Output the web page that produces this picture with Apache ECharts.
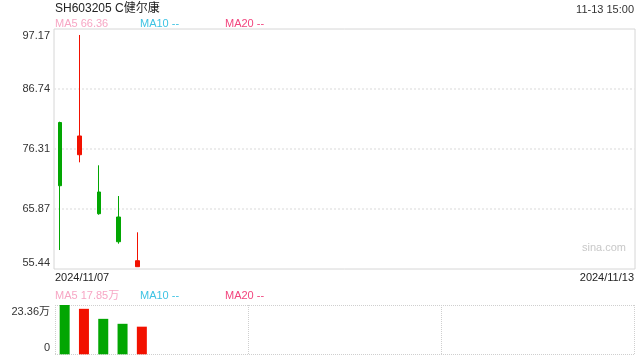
<!DOCTYPE html>
<html>
<head>
<meta charset="utf-8">
<script src="https://cdn.jsdelivr.net/npm/echarts@6/dist/echarts.min.js"></script>
<style>html,body{margin:0;padding:0;background:#fff;}#c{width:640px;height:360px;}</style>
</head>
<body>
<div id="c"></div>
<script>
// ---- data ----
var dates = ['2024/11/07', '2024/11/08', '2024/11/11', '2024/11/12', '2024/11/13'];
var opens  = [80.91, 75.31, 68.83, 64.48, 55.84];
var closes = [69.92, 78.57, 65.05, 60.18, 56.88];
var lows   = [58.74, 73.99, 64.88, 59.84, 55.84];
var highs  = [81.05, 96.13, 73.47, 68.13, 61.82];
var volumes = [23.36, 21.55, 16.80, 14.45, 13.09]; // 万
var priceTicks = ['55.44', '65.87', '76.31', '86.74', '97.17'];
var volTicks = ['0', '23.36万'];
var slotCount = 30;
var priceMin = 55.44, priceMax = 97.17;
var volMax = 23.36;

// ---- build ----
var cats = [];
for (var i = 0; i < slotCount; i++) cats.push(i < dates.length ? dates[i] : '');
var RED = '#f21100', GREEN = '#02a602';
var kData = [], vData = [];
for (var j = 0; j < dates.length; j++) {
  kData.push([opens[j], closes[j], lows[j], highs[j]]);
  var up = closes[j] >= opens[j];
  vData.push({value: volumes[j], itemStyle: {color: up ? RED : GREEN}});
}
var FONT = '"Liberation Sans", Arial, "Noto Sans CJK SC", sans-serif';

function edgeFmt(list) {
  return function (v, idx) {
    var n = list.length;
    if (idx === 0) return '{b|' + list[idx] + '}';
    if (idx === n - 1) return '{t|' + list[idx] + '}';
    return list[idx];
  };
}
var edgeRich = {
  t: {padding: [13, 0, 0, 0], fontSize: 11, color: '#333', fontFamily: FONT},
  b: {padding: [0, 0, 12, 0], fontSize: 11, color: '#333', fontFamily: FONT}
};

var chart = echarts.init(document.getElementById('c'), null, {renderer: 'canvas'});
var t = function (text, pos, size, color) {
  var o = {text: text, textStyle: {fontSize: size, fontWeight: 'normal', color: color, fontFamily: FONT}, padding: 0};
  for (var k in pos) o[k] = pos[k];
  return o;
};
chart.setOption({
  animation: false,
  backgroundColor: '#fff',
  title: [
    t('SH603205 C健尔康', {left: 55, top: 3}, 12, '#222'),
    t('11-13 15:00', {right: 6, top: 4}, 11, '#333'),
    t('MA5 66.36', {left: 55, top: 18}, 11, '#f7a6c4'),
    t('MA10 --', {left: 140, top: 18}, 11, '#3ec3e3'),
    t('MA20 --', {left: 225, top: 18}, 11, '#f2457e'),
    t('2024/11/07', {left: 55, top: 272}, 11, '#222'),
    t('2024/11/13', {right: 6, top: 272}, 11, '#222'),
    t('MA5 17.85万', {left: 55, top: 290}, 11, '#f7a6c4'),
    t('MA10 --', {left: 140, top: 290}, 11, '#3ec3e3'),
    t('MA20 --', {left: 225, top: 290}, 11, '#f2457e'),
    t('sina.com', {left: 582, top: 242}, 11, '#c8c8c8')
  ],
  grid: [
    {left: 54, top: 29, width: 581, height: 240, show: true, borderColor: '#d6d6d6', borderWidth: 1, backgroundColor: 'transparent', z: 0},
    {left: 50.5, top: 29, width: 581, height: 240, show: false},
    {left: 55, top: 305, width: 579, height: 49.3, show: false}
  ],
  xAxis: [
    {type: 'category', gridIndex: 0, data: cats, boundaryGap: true, axisLine: {show: false}, axisTick: {show: false}, axisLabel: {show: false}, splitLine: {show: false}},
    {type: 'category', gridIndex: 1, data: cats, boundaryGap: true, show: false},
    {type: 'category', gridIndex: 2, data: cats, boundaryGap: true, axisLine: {show: false}, axisTick: {show: false}, axisLabel: {show: false},
      splitLine: {show: true, interval: 9, lineStyle: {color: '#cfcfcf', type: [1, 1], width: 1}}}
  ],
  yAxis: [
    {type: 'value', gridIndex: 0, min: priceMin, max: priceMax, interval: (priceMax - priceMin) / 4,
      axisLine: {show: false}, axisTick: {show: false},
      axisLabel: {margin: 4, fontSize: 11, color: '#333', fontFamily: FONT, formatter: edgeFmt(priceTicks), rich: edgeRich},
      splitLine: {show: true, showMinLine: false, showMaxLine: false, lineStyle: {color: '#e6e6e6', type: [2, 2], width: 1.5}}},
    {type: 'value', gridIndex: 1, min: priceMin, max: priceMax, show: false, splitLine: {show: false}},
    {type: 'value', gridIndex: 2, min: 0, max: volMax, interval: volMax,
      axisLine: {show: false}, axisTick: {show: false},
      axisLabel: {margin: 5, fontSize: 11, color: '#333', fontFamily: FONT, formatter: edgeFmt(volTicks), rich: edgeRich},
      splitLine: {show: true, showMinLine: true, showMaxLine: true, lineStyle: {color: '#cfcfcf', type: [1, 1], width: 1}}}
  ],
  series: [
    {type: 'candlestick', xAxisIndex: 1, yAxisIndex: 1, data: kData, barWidth: 4,
      itemStyle: {color: RED, color0: GREEN, borderColor: RED, borderColor0: GREEN, borderWidth: 1}},
    {type: 'bar', xAxisIndex: 2, yAxisIndex: 2, data: vData, barWidth: 10}
  ]
});
</script>
</body>
</html>
